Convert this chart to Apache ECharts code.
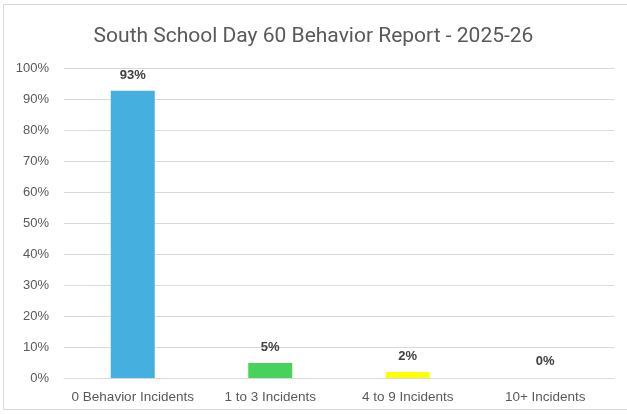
<!DOCTYPE html>
<html><head><meta charset="utf-8">
<script src="https://cdn.jsdelivr.net/npm/echarts@6/dist/echarts.min.js"></script>
<style>html,body{margin:0;padding:0;background:#fff}#c{width:627px;height:414px}</style>
</head><body><div id="c"></div>
<script>
const categories = ['0 Behavior Incidents', '1 to 3 Incidents', '4 to 9 Incidents', '10+ Incidents'];
const values = [92.7, 4.8, 1.9, 0.2];
const barColors = ['#45AFE0', '#47D35B', '#FFFF00', 'rgba(0,0,0,0)'];
const yTicks = [0, 10, 20, 30, 40, 50, 60, 70, 80, 90, 100];

const chart = echarts.init(document.getElementById('c'));
chart.setOption({
  animation: false,
  graphic: [{type: 'rect', shape: {x: 3.5, y: 4.5, width: 640, height: 405}, style: {fill: 'none', stroke: '#d9d9d9', lineWidth: 1}, silent: true}],
  title: {text: 'South School Day 60 Behavior Report - 2025-26', left: 'center', top: 21,
    textStyle: {fontFamily: 'Liberation Sans Narrow, Roboto, sans-serif', fontWeight: 'normal', fontSize: 21, color: '#595959'}},
  grid: {left: 64, right: 13, top: 68, bottom: 36},
  xAxis: {type: 'category', data: categories,
    axisLine: {lineStyle: {color: '#d9d9d9'}}, axisTick: {show: false},
    axisLabel: {color: '#595959', fontSize: 13.5, fontFamily: 'Liberation Sans, Arial, sans-serif', margin: 12, interval: 0}},
  yAxis: {type: 'value', min: 0, max: 100, interval: 10,
    axisLabel: {color: '#595959', fontSize: 13, fontFamily: 'Liberation Sans, Arial, sans-serif', margin: 15,
      formatter: v => yTicks.includes(v) ? v + '%' : ''},
    splitLine: {lineStyle: {color: '#d9d9d9'}}, axisLine: {show: false}, axisTick: {show: false}},
  series: [{type: 'bar', barWidth: 44,
    data: values.map((v, i) => ({value: v, itemStyle: {color: barColors[i]}})),
    label: {show: true, position: 'top', distance: 9, color: '#404040', fontWeight: 'bold', fontSize: 13,
      fontFamily: 'Liberation Sans, Arial, sans-serif', formatter: p => Math.round(p.value) + '%'}}]
});
</script></body></html>
